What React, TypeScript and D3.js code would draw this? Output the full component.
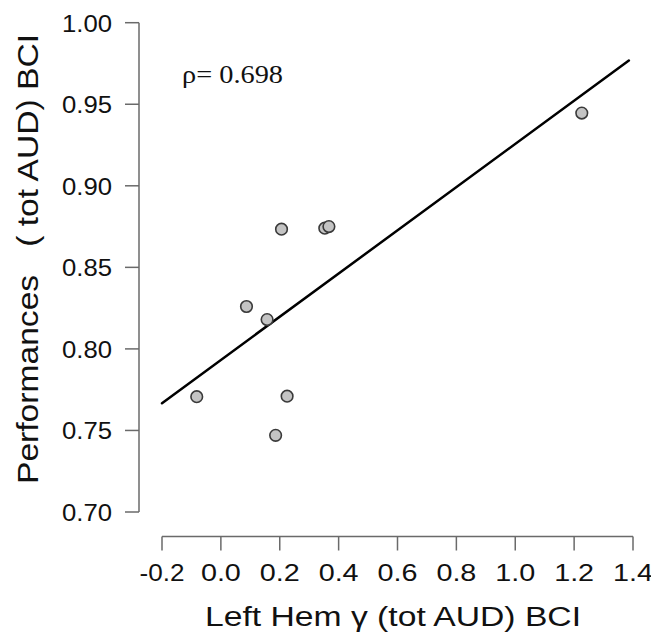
import React from "react";
import * as d3 from "d3";

const xValues = [-0.082, 0.087, 0.157, 0.225, 0.186, 0.206, 0.353, 0.367, 1.226];
const yValues = [0.7707, 0.826, 0.818, 0.771, 0.747, 0.8734, 0.874, 0.875, 0.9446];
const xTicks = [-0.2, 0.0, 0.2, 0.4, 0.6, 0.8, 1.0, 1.2, 1.4];
const yTicks = [0.7, 0.75, 0.8, 0.85, 0.9, 0.95, 1.0];
const fitLine = { intercept: 0.7932, slope: 0.1325, xStart: -0.2, xEnd: 1.386 };
const rhoLabel = "ρ= 0.698";
const xTitle = "Left Hem γ (tot AUD) BCI";
const yTitle = "Performances   ( tot AUD) BCI";

export default function App() {
  const W = 651, H = 638;
  const x = d3.scaleLinear().domain([-0.2, 1.4]).range([162, 633]);
  const y = d3.scaleLinear().domain([0.7, 1.0]).range([512, 22.7]);
  const axisColor = "#6a6a6a";
  const font = "Liberation Sans, Arial, sans-serif";
  const points = xValues.map((v, i) => ({ x: v, y: yValues[i] }));
  const line = d3.line<[number, number]>().x(d => x(d[0])).y(d => y(d[1]));
  const lp: [number, number][] = [fitLine.xStart, fitLine.xEnd].map(v => [v, fitLine.intercept + fitLine.slope * v]);
  const yAxisX = 139;
  const xAxisY = 536.5;
  return (
    <svg width={W} height={H} style={{ position: "absolute", left: 0, top: 0, background: "#fff" }}>
      <rect width={W} height={H} fill="#fff" />
      {/* y axis */}
      <line x1={yAxisX} x2={yAxisX} y1={y(0.7)} y2={y(1.0)} stroke={axisColor} strokeWidth={1.5} />
      {yTicks.map(t => (
        <g key={t}>
          <line x1={yAxisX - 14} x2={yAxisX} y1={y(t)} y2={y(t)} stroke={axisColor} strokeWidth={1.5} />
          <text x={112} y={y(t)} dy="0.36em" textAnchor="end" fontFamily={font} fontSize={24.5}
            textLength={50} lengthAdjust="spacingAndGlyphs" fill="#111">
            {t.toFixed(2)}
          </text>
        </g>
      ))}
      {/* x axis */}
      <line x1={x(-0.2)} x2={x(1.4)} y1={xAxisY} y2={xAxisY} stroke={axisColor} strokeWidth={1.5} />
      {xTicks.map(t => {
        const label = t.toFixed(1);
        return (
          <g key={t}>
            <line x1={x(t)} x2={x(t)} y1={xAxisY} y2={xAxisY + 14} stroke={axisColor} strokeWidth={1.5} />
            <text x={x(t)} y={580.5} textAnchor="middle" fontFamily={font} fontSize={24.5}
              textLength={label.startsWith("-") ? 45 : 40} lengthAdjust="spacingAndGlyphs" fill="#111">
              {label}
            </text>
          </g>
        );
      })}
      {/* titles */}
      <text x={205} y={626} fontFamily={font} fontSize={27} fill="#111"
        textLength={376} lengthAdjust="spacingAndGlyphs">
        {xTitle}
      </text>
      <text
        transform={`translate(38, 484) rotate(-90)`}
        fontFamily={font}
        fontSize={30}
        fill="#111"
        textLength={450}
        lengthAdjust="spacingAndGlyphs"
        style={{ whiteSpace: "pre" }}
        xmlSpace="preserve"
      >
        {yTitle}
      </text>
      {/* fit line */}
      <path d={line(lp) || ""} fill="none" stroke="#000" strokeWidth={2.5} strokeLinecap="round" />
      {/* points */}
      {points.map((p, i) => (
        <circle key={i} cx={x(p.x)} cy={y(p.y)} r={5.8} fill="#c4c4c4" stroke="#3a3a3a" strokeWidth={1.6} />
      ))}
      <text x={182} y={83} fontFamily="Liberation Serif, Times New Roman, serif" fontSize={25}
        textLength={101} lengthAdjust="spacingAndGlyphs" fill="#111">
        {rhoLabel}
      </text>
    </svg>
  );
}
